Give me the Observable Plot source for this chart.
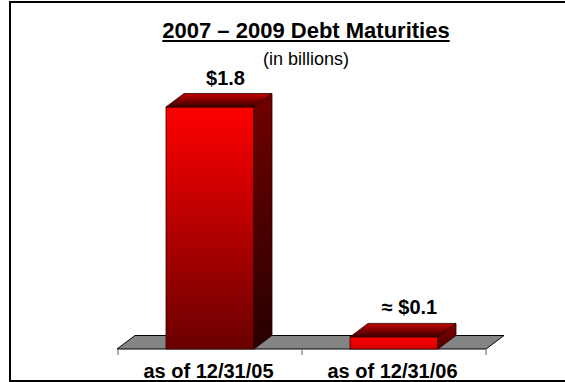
<!DOCTYPE html>
<html>
<head>
<meta charset="utf-8">
<script src="https://cdn.jsdelivr.net/npm/d3@7"></script>
<script src="https://cdn.jsdelivr.net/npm/@observablehq/plot@0.6"></script>
<style>
  html, body { margin: 0; padding: 0; background: #fff; overflow: hidden; }
  #wrap { position: relative; width: 565px; height: 382px; overflow: hidden;
          font-family: "Liberation Sans", Arial, sans-serif; color: #000; }
  .ln { position: absolute; background: #000; }
  #ftop { left: 9px; top: 1px; width: 556px; height: 2px; }
  #fleft { left: 9px; top: 1px; width: 2px; height: 381px; }
  #fbot { left: 9px; top: 380px; width: 556px; height: 2px; }
  #title { position: absolute; left: 306px; top: 20px; transform: translateX(-50%);
           font-size: 22px; line-height: 22px; font-weight: bold;
           text-decoration: underline; white-space: nowrap; }
  #sub { position: absolute; left: 306px; top: 50px; transform: translateX(-50%);
         font-size: 18px; line-height: 18px; white-space: nowrap; }
  #chart { position: absolute; left: 0; top: 0; }
</style>
</head>
<body>
<div id="wrap">
  <div class="ln" id="ftop"></div>
  <div class="ln" id="fleft"></div>
  <div class="ln" id="fbot"></div>
  <div id="chart"></div>
  <div id="title"></div>
  <div id="sub"></div>
</div>
<script>
// ---- data ----
const categories = ["as of 12/31/05", "as of 12/31/06"];
const values = [1.8, 0.09];
const valueLabels = ["$1.8", "\u2248 $0.1"];
const titleText = "2007 \u2013 2009 Debt Maturities";
const subtitleText = "(in billions)";

const data = categories.map((c, i) => ({cat: c, value: values[i], label: valueLabels[i]}));

document.getElementById("title").textContent = titleText;
document.getElementById("sub").textContent = subtitleText;

const DX = 18, DY = -13.5;
let gid = 0;

function floorRender(index, scales, vals, dims) {
  const x0 = dims.marginLeft, x1 = dims.width - dims.marginRight;
  const y0 = scales.y(0);
  const g = d3.create("svg:g");
  g.append("polygon")
    .attr("points", [[x0, y0], [x1, y0], [x1 + DX, y0 + DY], [x0 + DX, y0 + DY]].map(p => p.join(",")).join(" "))
    .attr("fill", "#858585").attr("stroke", "#000").attr("stroke-width", 1)
    .attr("stroke-linejoin", "miter");
  const edges = categories.map(c => scales.x(c)).concat([x1]);
  for (const e of edges) {
    g.append("line").attr("x1", e).attr("x2", e).attr("y1", y0).attr("y2", y0 + 6)
      .attr("stroke", "#7a7a7a").attr("stroke-width", 1.2);
  }
  return g.node();
}

function boxRender(index, scales, vals, dims, ctx, next) {
  const g = next(index, scales, vals, dims, ctx);
  const sel = d3.select(g);
  const defs = sel.insert("defs", ":first-child");
  const maxH = scales.y(0) - scales.y(d3.max(values));
  const grad = (id, c0, c1) => {
    const lg = defs.append("linearGradient").attr("id", id)
      .attr("x1", 0).attr("y1", 0).attr("x2", 0).attr("y2", 1);
    lg.append("stop").attr("offset", 0).attr("stop-color", c0);
    lg.append("stop").attr("offset", 1).attr("stop-color", c1);
  };
  const rects = sel.selectAll("rect").nodes();
  for (const node of rects) {
    const r = d3.select(node);
    const x = +r.attr("x"), y = +r.attr("y"), w = +r.attr("width"), h = +r.attr("height");
    const f = Math.max(0.28, h / maxH);
    const k = "g" + (gid++);
    grad(k + "f", "#ff0000", d3.interpolateRgb("#ff0000", "#6a0000")(f));
    grad(k + "t", "#c40000", "#3a0000");
    grad(k + "s", d3.interpolateRgb("#900000", "#720000")(f), d3.interpolateRgb("#5a0000", "#280000")(f));
    r.attr("fill", `url(#${k}f)`).attr("stroke", "#3a0000").attr("stroke-width", 0.8);
    const pts = a => a.map(p => p.join(",")).join(" ");
    sel.append("polygon")
      .attr("points", pts([[x, y], [x + w, y], [x + w + DX, y + DY], [x + DX, y + DY]]))
      .attr("fill", `url(#${k}t)`).attr("stroke", "#2a0000").attr("stroke-width", 0.8);
    sel.append("polygon")
      .attr("points", pts([[x + w, y], [x + w + DX, y + DY], [x + w + DX, y + h + DY], [x + w, y + h]]))
      .attr("fill", `url(#${k}s)`).attr("stroke", "#2a0000").attr("stroke-width", 0.8);
  }
  return g;
}

const chart = Plot.plot({
  width: 565,
  height: 382,
  marginLeft: 117,
  marginRight: 79,
  marginTop: 107,
  marginBottom: 33,
  style: {fontFamily: "'Liberation Sans', Arial, sans-serif", background: "transparent", color: "#000"},
  x: {domain: categories, padding: 0, label: null, axis: null},
  y: {domain: [0, d3.max(values)], axis: null},
  marks: [
    Plot.ruleY([0], {render: floorRender}),
    Plot.barY(data, {x: "cat", y: "value", insetLeft: 48, insetRight: 48, render: boxRender}),
    Plot.text(data, {x: "cat", y: "value", text: "label", dx: 15, dy: -23, lineAnchor: "bottom",
                     fontSize: 20, fontWeight: "bold", fill: "#000"}),
    Plot.axisX({tickSize: 0, tickPadding: 14, fontSize: 20, fontWeight: "bold", fill: "#000", label: null, dx: -2})
  ]
});
document.getElementById("chart").appendChild(chart);
</script>
</body>
</html>
